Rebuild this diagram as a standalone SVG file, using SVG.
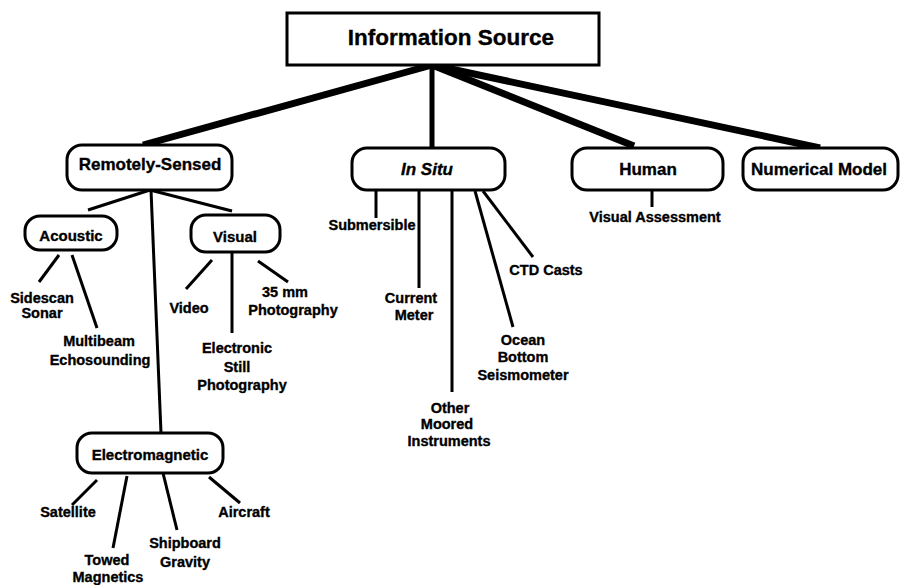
<svg xmlns="http://www.w3.org/2000/svg" width="900" height="585" viewBox="0 0 900 585">
  <style>
    text { font-family: "Liberation Sans", Arial, Helvetica, sans-serif; font-weight: bold; fill: #000; stroke: #000; stroke-width: 0.35; text-anchor: middle; }
    .root { font-size: 22.5px; }
    .l1 { font-size: 17px; }
    .l2 { font-size: 15px; }
    .lbl { font-size: 14.5px; }
    .box { fill: #fff; stroke: #000; stroke-width: 3; }
    .thick { stroke: #000; stroke-width: 7; fill: none; }
    .thin { stroke: #000; stroke-width: 3; fill: none; }
  </style>
  <rect width="900" height="585" fill="#fff"/>

  <!-- connectors -->
  <g id="connectors">
    <line class="thick" x1="432" y1="65" x2="143" y2="145"/>
    <line class="thick" x1="432" y1="65" x2="432" y2="148" style="stroke-width:5"/>
    <line class="thick" x1="432" y1="65" x2="634" y2="146"/>
    <line class="thick" x1="432" y1="65" x2="820" y2="148"/>

    <line class="thin" x1="150" y1="190" x2="88" y2="210"/>
    <line class="thin" x1="150" y1="190" x2="232" y2="211"/>
    <line class="thin" x1="151" y1="190" x2="161" y2="433"/>

    <line class="thin" x1="59" y1="255" x2="39" y2="282"/>
    <line class="thin" x1="72" y1="255" x2="97" y2="328"/>

    <line class="thin" x1="212" y1="260" x2="186" y2="289"/>
    <line class="thin" x1="232" y1="253" x2="232" y2="333"/>
    <line class="thin" x1="258" y1="261" x2="288" y2="282"/>

    <line class="thin" x1="376" y1="190" x2="376" y2="218"/>
    <line class="thin" x1="419" y1="190" x2="419" y2="288"/>
    <line class="thin" x1="452" y1="190" x2="452" y2="392"/>
    <line class="thin" x1="475" y1="191" x2="513" y2="327"/>
    <line class="thin" x1="483" y1="191" x2="533" y2="257"/>

    <line class="thin" x1="652" y1="190" x2="652" y2="207"/>

    <line class="thin" x1="97" y1="480" x2="72" y2="505"/>
    <line class="thin" x1="127" y1="476" x2="113" y2="548"/>
    <line class="thin" x1="163" y1="473" x2="177" y2="530"/>
    <line class="thin" x1="209" y1="477" x2="240" y2="503"/>
  </g>

  <!-- nodes -->
  <g id="information-source">
    <rect class="box" x="287" y="13" width="312" height="52"/>
    <text class="root" x="451" y="45">Information Source</text>
  </g>

  <g id="remotely-sensed">
    <rect class="box" x="67" y="145" width="165" height="45" rx="15"/>
    <text class="l1" x="150" y="170">Remotely-Sensed</text>
  </g>

  <g id="in-situ">
    <rect class="box" x="352" y="148" width="153" height="42" rx="15"/>
    <text class="l1" x="427" y="175" font-style="italic">In Situ</text>
  </g>

  <g id="human">
    <rect class="box" x="572" y="148" width="151" height="42" rx="15"/>
    <text class="l1" x="648" y="175">Human</text>
  </g>

  <g id="numerical-model">
    <rect class="box" x="743" y="148" width="155" height="42" rx="15"/>
    <text class="l1" x="819" y="175">Numerical Model</text>
  </g>

  <g id="acoustic">
    <rect class="box" x="25" y="216" width="92" height="34" rx="15"/>
    <text class="l2" x="71" y="241">Acoustic</text>
  </g>

  <g id="visual">
    <rect class="box" x="191" y="215" width="89" height="37" rx="15"/>
    <text class="l2" x="235" y="242">Visual</text>
  </g>

  <g id="electromagnetic">
    <rect class="box" x="77" y="433" width="146" height="40" rx="15"/>
    <text class="l2" x="150" y="460">Electromagnetic</text>
  </g>

  <!-- leaf labels -->
  <g id="sidescan-sonar">
    <text class="lbl" x="42" y="303">Sidescan</text>
    <text class="lbl" x="42" y="318">Sonar</text>
  </g>
  <g id="multibeam-echosounding">
    <text class="lbl" x="99" y="346">Multibeam</text>
    <text class="lbl" x="100" y="365">Echosounding</text>
  </g>
  <g id="video">
    <text class="lbl" x="189" y="313">Video</text>
  </g>
  <g id="photo-35mm">
    <text class="lbl" x="285" y="297">35 mm</text>
    <text class="lbl" x="293" y="315">Photography</text>
  </g>
  <g id="electronic-still">
    <text class="lbl" x="237" y="353">Electronic</text>
    <text class="lbl" x="237" y="372">Still</text>
    <text class="lbl" x="242" y="390">Photography</text>
  </g>
  <g id="submersible">
    <text class="lbl" x="372" y="230">Submersible</text>
  </g>
  <g id="current-meter">
    <text class="lbl" x="411" y="303">Current</text>
    <text class="lbl" x="414" y="320">Meter</text>
  </g>
  <g id="other-moored">
    <text class="lbl" x="450" y="413">Other</text>
    <text class="lbl" x="447" y="429">Moored</text>
    <text class="lbl" x="449" y="446">Instruments</text>
  </g>
  <g id="ocean-bottom-seismometer">
    <text class="lbl" x="523" y="345">Ocean</text>
    <text class="lbl" x="523" y="362">Bottom</text>
    <text class="lbl" x="523" y="380">Seismometer</text>
  </g>
  <g id="ctd-casts">
    <text class="lbl" x="546" y="275">CTD Casts</text>
  </g>
  <g id="visual-assessment">
    <text class="lbl" x="655" y="222">Visual Assessment</text>
  </g>
  <g id="satellite">
    <text class="lbl" x="68" y="517">Satellite</text>
  </g>
  <g id="towed-magnetics">
    <text class="lbl" x="107" y="565">Towed</text>
    <text class="lbl" x="108" y="582">Magnetics</text>
  </g>
  <g id="shipboard-gravity">
    <text class="lbl" x="185" y="548">Shipboard</text>
    <text class="lbl" x="185" y="567">Gravity</text>
  </g>
  <g id="aircraft">
    <text class="lbl" x="244" y="517">Aircraft</text>
  </g>
</svg>
